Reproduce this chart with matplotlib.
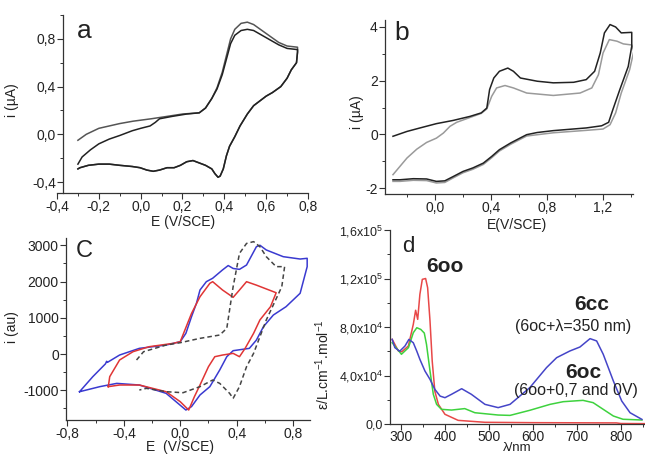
import numpy as np
import matplotlib
matplotlib.use('Agg')
import matplotlib.pyplot as plt
from matplotlib.ticker import MultipleLocator, FuncFormatter, FixedLocator

plt.rcParams['font.family'] = ['Liberation Sans', 'DejaVu Sans']
plt.rcParams['mathtext.default'] = 'regular'

# --- panel a: two CV scans (E in V/SCE, i in uA)
a_back_E = [0.75, 0.745, 0.72, 0.70, 0.67, 0.63, 0.60, 0.57, 0.54, 0.51, 0.475, 0.45,
            0.425, 0.41, 0.395, 0.38, 0.37, 0.355, 0.34, 0.31, 0.28, 0.25, 0.22, 0.19,
            0.16, 0.126, 0.09, 0.06, 0.03, -0.003, -0.04, -0.10, -0.15, -0.20, -0.25,
            -0.29, -0.30]
a_back_i = [0.69, 0.60, 0.54, 0.47, 0.40, 0.35, 0.32, 0.28, 0.24, 0.17, 0.07, -0.02,
            -0.10, -0.18, -0.29, -0.35, -0.36, -0.33, -0.29, -0.26, -0.24, -0.22, -0.23,
            -0.26, -0.28, -0.28, -0.30, -0.31, -0.30, -0.28, -0.27, -0.26, -0.25, -0.25,
            -0.26, -0.28, -0.29]
a1_fwd_E = [-0.30, -0.28, -0.24, -0.20, -0.15, -0.10, -0.04, 0.0, 0.045, 0.07, 0.09,
            0.15, 0.22, 0.28, 0.31, 0.34, 0.365, 0.39, 0.41, 0.43, 0.45, 0.48, 0.51,
            0.54, 0.58, 0.62, 0.66, 0.70, 0.75]
a1_fwd_i = [-0.25, -0.19, -0.13, -0.08, -0.04, -0.01, 0.03, 0.05, 0.07, 0.10, 0.13,
            0.15, 0.17, 0.18, 0.22, 0.30, 0.38, 0.50, 0.63, 0.76, 0.83, 0.87, 0.88,
            0.87, 0.83, 0.79, 0.75, 0.72, 0.71]
a2_fwd_E = [-0.30, -0.26, -0.20, -0.10, -0.036, 0.05, 0.126, 0.20, 0.28, 0.31, 0.34,
            0.365, 0.39, 0.41, 0.43, 0.45, 0.48, 0.51, 0.54, 0.58, 0.62, 0.66, 0.70, 0.75]
a2_fwd_i = [-0.05, 0.0, 0.05, 0.09, 0.11, 0.13, 0.15, 0.17, 0.18, 0.22, 0.30, 0.39,
            0.52, 0.66, 0.80, 0.88, 0.93, 0.94, 0.92, 0.87, 0.82, 0.77, 0.74, 0.73]

# --- panel b: two CV scans
b1_E = [-0.30, -0.20, -0.107, 0.01, 0.13, 0.25, 0.33, 0.37, 0.39, 0.42, 0.46, 0.52,
        0.56, 0.61, 0.73, 0.845, 0.99, 1.08, 1.14, 1.18, 1.21, 1.25, 1.29, 1.33, 1.405,
        1.405, 1.38, 1.32, 1.27, 1.24, 1.19, 1.08, 0.845, 0.73, 0.655, 0.61, 0.54,
        0.46, 0.405, 0.345, 0.27, 0.20, 0.13, 0.07, 0.01, -0.06, -0.155, -0.25, -0.30]
b1_i = [-0.07, 0.11, 0.24, 0.40, 0.52, 0.67, 0.80, 0.98, 1.67, 2.10, 2.35, 2.47,
        2.35, 2.10, 1.98, 1.92, 1.94, 2.04, 2.35, 3.03, 3.78, 4.09, 4.0, 3.78, 3.80,
        3.28, 2.53, 1.67, 0.92, 0.45, 0.32, 0.24, 0.14, 0.07, -0.01, -0.13, -0.32,
        -0.57, -0.82, -1.07, -1.25, -1.38, -1.57, -1.73, -1.75, -1.66, -1.65, -1.69, -1.69]
b2_E = [-0.30, -0.25, -0.20, -0.13, -0.06, 0.01, 0.06, 0.107, 0.155, 0.25, 0.33, 0.37,
        0.405, 0.44, 0.50, 0.56, 0.655, 0.845, 1.036, 1.12, 1.167, 1.20, 1.245, 1.30,
        1.345, 1.405, 1.42, 1.39, 1.33, 1.29, 1.25, 1.20, 1.08, 0.845, 0.655, 0.61,
        0.54, 0.46, 0.405, 0.345, 0.27, 0.20, 0.13, 0.07, 0.01, -0.06, -0.155, -0.25,
        -0.30]
b2_i = [-1.50, -1.19, -0.88, -0.55, -0.30, -0.14, 0.05, 0.30, 0.45, 0.63, 0.78, 0.95,
        1.42, 1.73, 1.82, 1.73, 1.54, 1.45, 1.54, 1.73, 2.22, 3.03, 3.53, 3.47, 3.37,
        3.33, 3.10, 2.41, 1.54, 0.80, 0.36, 0.20, 0.15, 0.06, -0.06, -0.18, -0.37,
        -0.62, -0.87, -1.12, -1.30, -1.43, -1.62, -1.79, -1.81, -1.72, -1.71, -1.75, -1.75]

# --- panel c: CV (au), blue / red / dashed
c_blue_E = [-0.714, -0.62, -0.53, -0.522, -0.516, -0.43, -0.29, -0.10, 0.0, 0.04, 0.08,
            0.115, 0.14, 0.185, 0.23, 0.30, 0.34, 0.375, 0.42, 0.47, 0.54, 0.565, 0.61,
            0.73, 0.85, 0.90, 0.90, 0.85, 0.75, 0.66, 0.59, 0.54, 0.49, 0.375, 0.33,
            0.28, 0.21, 0.14, 0.08, 0.04, -0.03, -0.10, -0.29, -0.45, -0.57, -0.714]
c_blue_i = [-1040, -625, -270, -200, -230, -28, 156, 248, 340, 570, 1030, 1400, 1765,
            1995, 2090, 2320, 2440, 2360, 2335, 2455, 2960, 3000, 2870, 2685, 2620, 2640,
            2410, 1675, 1305, 1075, 755, 385, 156, 92, -74, -440, -900, -1130, -1450,
            -1545, -1315, -1085, -855, -810, -900, -1040]
c_red_E = [-0.51, -0.50, -0.43, -0.335, -0.22, -0.05, 0.0, 0.08, 0.14, 0.21, 0.23, 0.30,
           0.375, 0.42, 0.47, 0.54, 0.68, 0.64, 0.565, 0.52, 0.46, 0.42, 0.375, 0.30,
           0.245, 0.20, 0.14, 0.10, 0.06, 0.0, -0.10, -0.29, -0.43, -0.51]
c_red_i = [-900, -625, -165, 64, 202, 294, 340, 1120, 1580, 1950, 1995, 1765, 1563,
           1765, 1995, 1900, 1690, 1305, 940, 570, 156, -74, 18, -28, -74, -350, -855,
           -1180, -1545, -1315, -1040, -855, -855, -900]
c_dash_E = [-0.31, -0.26, -0.10, 0.0, 0.14, 0.28, 0.33, 0.375, 0.42, 0.47, 0.52, 0.565,
            0.61, 0.68, 0.74, 0.72, 0.61, 0.52, 0.47, 0.42, 0.375, 0.35, 0.28, 0.23,
            0.14, 0.02, -0.10, -0.24, -0.29]
c_dash_i = [-165, 64, 248, 312, 432, 524, 708, 1857, 2777, 3050, 3100, 2960, 2685,
            2410, 2410, 1857, 938, 18, -350, -900, -1223, -1085, -810, -717, -900,
            -1067, -1040, -947, -993]

# --- panel d: absorption spectra (nm, L cm-1 mol-1)
d_red_nm = [280, 294, 301.5, 316.7, 328, 333.3, 338, 343, 348.5, 356, 360.6, 366, 371,
            377, 385, 400, 430, 491, 600, 700, 790, 800, 855]
d_red_eps = [69.8e3, 60.2e3, 59.5e3, 64.3e3, 82.2e3, 93.8e3, 86.3e3, 107e3, 119.3e3,
             120e3, 112.4e3, 85e3, 52e3, 27e3, 16.2e3, 8e3, 3e3, 1.4e3, 1.1e3, 1.0e3,
             0.9e3, 0.4e3, 0.3e3]
d_green_nm = [280, 301, 317, 328, 336, 345, 353, 358, 366, 373.5, 381, 392, 415, 445,
              468, 521, 548, 593, 639, 669, 714, 737, 760, 783, 805, 848]
d_green_eps = [67e3, 57.5e3, 63e3, 75.3e3, 79.4e3, 78e3, 75e3, 65.7e3, 43.7e3, 24.5e3,
               16.2e3, 12.1e3, 11.5e3, 12.7e3, 9.3e3, 7.4e3, 7.1e3, 11.3e3, 16.2e3,
               18.4e3, 19.5e3, 17.6e3, 12.1e3, 6.6e3, 3.9e3, 3.3e3]
d_blue_nm = [280, 286, 297, 309, 318, 328, 336, 343, 354.5, 366, 377, 389, 400, 415,
             438, 460, 491, 521, 548, 593, 631, 654, 684, 707, 730, 745, 760, 783, 802,
             821, 848]
d_blue_eps = [69.8e3, 63e3, 60e3, 64.3e3, 69.8e3, 67e3, 60e3, 53.3e3, 43.7e3, 36.8e3,
              28.6e3, 23e3, 21.7e3, 24.5e3, 29.1e3, 24.5e3, 16.2e3, 13.5e3, 16.2e3,
              30e3, 46.5e3, 54.7e3, 60.2e3, 63.5e3, 70.4e3, 68.5e3, 57.5e3, 35.5e3,
              19e3, 9.3e3, 3.8e3]
d_yticks = [0, 4e4, 8e4, 1.2e5, 1.6e5]
d_yticklabels = ['0,0', '4,0x10$^4$', '8,0x10$^4$', '1,2x10$^5$', '1,6x10$^5$']

W, H = 645, 454


def comma(fmt):
    return FuncFormatter(lambda v, p: fmt.format(v).replace('.', ','))


def style(ax, size=10):
    ax.spines['top'].set_visible(False)
    ax.spines['right'].set_visible(False)
    for s in ('left', 'bottom'):
        ax.spines[s].set_color('#333333')
        ax.spines[s].set_linewidth(0.9)
    ax.tick_params(which='major', direction='out', length=4, width=0.8,
                   labelsize=size, pad=1.2, colors='#333333', labelcolor='#222222')
    ax.tick_params(which='minor', direction='out', length=2.5, width=0.7,
                   colors='#333333')


def place(ax, rect_px):
    # rect in pixels: left, top, right, bottom
    l, t, r, b = rect_px
    ax.set_position([l / W, 1 - b / H, (r - l) / W, (b - t) / H])


def fig_label(text, x, y, rot=0, size=10, weight='normal'):
    fig.text(x / W, 1 - y / H, text, ha='center', va='center', rotation=rot,
             fontsize=size, fontweight=weight, color='#222222')


fig = plt.figure(figsize=(6.45, 4.54), dpi=100)

# panel a
ax = fig.add_axes([0, 0, 1, 1])
place(ax, (57, 15, 308, 193))
ax.plot(a2_fwd_E + a_back_E, a2_fwd_i + a_back_i, color='#555555', lw=1.1)
ax.plot(a1_fwd_E + a_back_E, a1_fwd_i + a_back_i, color='#222222', lw=1.1)
ax.set_xlim(-0.4, 0.8)
ax.set_ylim(-0.492, 1.0)
style(ax)
ax.spines['left'].set_position(('data', -0.371))
ax.xaxis.set_major_locator(MultipleLocator(0.2))
ax.xaxis.set_minor_locator(MultipleLocator(0.1))
ax.yaxis.set_major_locator(MultipleLocator(0.4))
ax.yaxis.set_minor_locator(MultipleLocator(0.2))
ax.xaxis.set_major_formatter(comma('{:.1f}'))
ax.yaxis.set_major_formatter(comma('{:.1f}'))
fig_label('a', 84, 31, size=19)
fig_label('E (V/SCE)', 183, 222)
fig_label('i (µA)', 12, 100, rot=90)

# panel b
ax = fig.add_axes([0, 0, 1, 1])
place(ax, (385, 20, 633, 194))
ax.plot(b2_E, b2_i, color='#9a9a9a', lw=1.1)
ax.plot(b1_E, b1_i, color='#222222', lw=1.1)
ax.set_xlim(-0.357, 1.414)
ax.set_ylim(-2.22, 4.26)
style(ax)
ax.xaxis.set_major_locator(MultipleLocator(0.4))
ax.xaxis.set_minor_locator(MultipleLocator(0.2))
ax.yaxis.set_major_locator(MultipleLocator(2))
ax.yaxis.set_minor_locator(MultipleLocator(1))
ax.xaxis.set_major_formatter(comma('{:.1f}'))
ax.yaxis.set_major_formatter(comma('{:.0f}'))
fig_label('b', 402, 33, size=19)
fig_label('E(V/SCE)', 517, 225)
fig_label('i (µA)', 357, 112, rot=90)

# panel c
ax = fig.add_axes([0, 0, 1, 1])
place(ax, (66, 238, 310, 420))
ax.plot(c_blue_E, c_blue_i, color='#3a3ad0', lw=1.1)
ax.plot(c_red_E, c_red_i, color='#e03535', lw=1.1)
ax.plot(c_dash_E, c_dash_i, color='#444444', lw=1.1, ls=(0, (3, 2)))
ax.set_xlim(-0.81, 0.92)
ax.set_ylim(-1820, 3200)
style(ax)
ax.xaxis.set_major_locator(MultipleLocator(0.4))
ax.xaxis.set_minor_locator(MultipleLocator(0.2))
ax.yaxis.set_major_locator(FixedLocator([-1000, 0, 1000, 2000, 3000]))
ax.yaxis.set_minor_locator(MultipleLocator(500))
ax.xaxis.set_major_formatter(comma('{:.1f}'))
ax.yaxis.set_major_formatter(comma('{:.0f}'))
fig_label('C', 84, 251, size=17)
fig_label('E  (V/SCE)', 180, 447)
fig_label('i (au)', 12, 327, rot=90)

# panel d
ax = fig.add_axes([0, 0, 1, 1])
place(ax, (390, 230, 645, 424))
ax.plot(d_red_nm, d_red_eps, color='#e84848', lw=1.1)
ax.plot(d_green_nm, d_green_eps, color='#3ed23e', lw=1.1)
ax.plot(d_blue_nm, d_blue_eps, color='#4545c8', lw=1.1)
ax.set_xlim(275, 855)
ax.set_ylim(0, 1.6e5)
style(ax)
ax.tick_params(axis='y', which='major', labelsize=9)
ax.tick_params(axis='x', which='major', pad=0.5)
ax.xaxis.set_major_locator(MultipleLocator(100))
ax.xaxis.set_minor_locator(MultipleLocator(50))
ax.yaxis.set_major_locator(FixedLocator(d_yticks))
ax.yaxis.set_minor_locator(MultipleLocator(2e4))
ax.set_yticklabels(d_yticklabels)
fig_label('d', 408, 246, size=16)
fig_label('6oo', 445, 266, size=15, weight='bold')
fig_label('6cc', 592, 305, size=15, weight='bold')
fig_label('(6oc+λ=350 nm)', 573, 327, size=11.5)
fig_label('6oc', 583, 372, size=15, weight='bold')
fig_label('(6oo+0,7 and 0V)', 576, 390, size=11.5)
fig_label('λ/nm', 517, 448, size=9.5)
fig_label('ε/L.cm$^{-1}$.mol$^{-1}$', 323, 365, rot=90)

fig.savefig('out.png', dpi=100)
